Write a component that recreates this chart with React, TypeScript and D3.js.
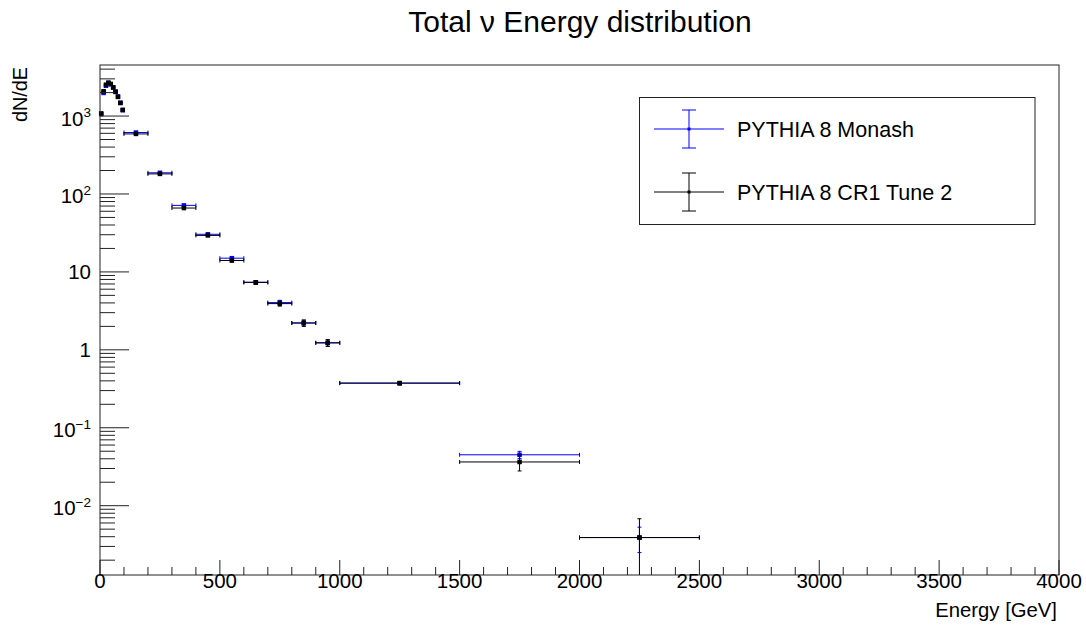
import React from "react";
import * as d3 from "d3";

// ---- data ----
const binEdges = [0, 10, 20, 30, 40, 50, 60, 70, 80, 90, 100, 200, 300, 400, 500, 600, 700, 800, 900, 1000, 1500, 2000, 2500];
const monashValues = [1060, 1980, 2450, 2650, 2560, 2340, 2060, 1780, 1480, 1190, 615, 187, 71.4, 30.4, 15.0, 7.35, 4.04, 2.21, 1.23, 0.374, 0.045, 0.0039];
const monashErrors = [30, 40, 45, 45, 45, 42, 40, 38, 35, 32, 8, 3, 1.6, 1, 0.6, 0.4, 0.28, 0.2, 0.12, 0.018, 0.0048, 0.0014];
const cr1Values = [1080, 2080, 2520, 2680, 2580, 2330, 2040, 1760, 1470, 1200, 590, 181, 66, 29.4, 14.0, 7.35, 3.92, 2.21, 1.23, 0.374, 0.0364, 0.0039];
const cr1Errors = [30, 40, 45, 45, 45, 42, 40, 38, 35, 32, 8, 3, 1.5, 1, 0.6, 0.4, 0.28, 0.2, 0.12, 0.018, 0.0085, 0.0029];
const seriesNames = ["PYTHIA 8 Monash", "PYTHIA 8 CR1 Tune 2"];
const seriesColors = ["#0000ff", "#000000"];
const xTickValues = [0, 500, 1000, 1500, 2000, 2500, 3000, 3500, 4000];
const xTickLabels = ["0", "500", "1000", "1500", "2000", "2500", "3000", "3500", "4000"];
const yTickValues = [1000, 100, 10, 1, 0.1, 0.01];
const yTickBases = ["10", "10", "10", "1", "10", "10"];
const yTickExps = ["3", "2", "", "", "\u22121", "\u22122"];
const titleText = "Total \u03bd Energy distribution";
const xTitle = "Energy [GeV]";
const yTitle = "dN/dE";

const FONT = "'Liberation Sans', Arial, Helvetica, sans-serif";

export default function App() {
  const W = 1086, H = 628;
  const L = 100, R = 1059, T = 65, B = 575;
  const x = d3.scaleLinear().domain([0, 4000]).range([L, R]);
  const y = d3.scaleLog().domain([0.00129, 4520]).range([B, T]);
  const [ymin, ymax] = y.domain();
  const clampY = (v: number) => y(Math.max(ymin, Math.min(ymax, v)));

  const xMinor = d3.range(0, 4001, 100).filter((v) => v % 500 !== 0);
  const yMinor: number[] = [];
  for (let d = -3; d <= 3; d++) {
    for (let m = 2; m <= 9; m++) {
      const v = m * Math.pow(10, d);
      if (v > ymin && v < ymax) yMinor.push(v);
    }
  }

  const bins = binEdges.slice(0, -1).map((lo, i) => ({ lo, hi: binEdges[i + 1], c: (lo + binEdges[i + 1]) / 2 }));
  const series = [
    { vals: monashValues, errs: monashErrors, color: seriesColors[0] },
    { vals: cr1Values, errs: cr1Errors, color: seriesColors[1] },
  ];
  const ms = 4.5;

  const legendEntries = [
    { name: seriesNames[0], color: seriesColors[0], cy: 129, top: 110, bot: 148 },
    { name: seriesNames[1], color: seriesColors[1], cy: 192, top: 173, bot: 211 },
  ];

  return (
    <svg width={W} height={H} style={{ position: "absolute", left: 0, top: 0, background: "#fff" }} fontFamily={FONT}>
      <rect x={0} y={0} width={W} height={H} fill="#fff" />
      <text x={580} y={32} fontSize={30} textAnchor="middle" fill="#000">{titleText}</text>

      {/* data */}
      <g>
        {series.map((s, si) => (
          <g key={si} stroke={s.color} fill={s.color} strokeWidth={1}>
            {bins.map((b, i) => {
              const v = s.vals[i];
              const cx = x(b.c);
              const cy = y(v);
              const x0 = x(b.lo), x1 = x(b.hi);
              const yHi = clampY(v + s.errs[i]);
              const yLo = clampY(v - s.errs[i]);
              return (
                <g key={i}>
                  <line x1={x0} x2={x1} y1={cy} y2={cy} />
                  <line x1={x0} x2={x0} y1={cy - 2} y2={cy + 2} />
                  <line x1={x1} x2={x1} y1={cy - 2} y2={cy + 2} />
                  <line x1={cx} x2={cx} y1={yHi} y2={yLo} />
                  {yHi > T + 1 && <line x1={cx - 2} x2={cx + 2} y1={yHi} y2={yHi} />}
                  {yLo < B - 1 && <line x1={cx - 2} x2={cx + 2} y1={yLo} y2={yLo} />}
                  <rect x={cx - ms / 2} y={cy - ms / 2} width={ms} height={ms} stroke="none" />
                </g>
              );
            })}
          </g>
        ))}
      </g>

      {/* frame */}
      <rect x={L} y={T} width={R - L} height={B - T} fill="none" stroke="#222" strokeWidth={1} />

      {/* ticks */}
      <g stroke="#222" strokeWidth={1}>
        {xTickValues.map((v) => (
          <line key={"xM" + v} x1={x(v)} x2={x(v)} y1={B} y2={B - 15} />
        ))}
        {xMinor.map((v) => (
          <line key={"xm" + v} x1={x(v)} x2={x(v)} y1={B} y2={B - 8} />
        ))}
        {yTickValues.map((v) => (
          <line key={"yM" + v} x1={L} x2={L + 29} y1={y(v)} y2={y(v)} />
        ))}
        {yMinor.map((v) => (
          <line key={"ym" + v} x1={L} x2={L + 15} y1={y(v)} y2={y(v)} />
        ))}
      </g>
      <g fontSize={20.5} fill="#000" textAnchor="middle">
        {xTickValues.map((v, i) => (
          <text key={"xl" + v} x={x(v)} y={588}>{xTickLabels[i]}</text>
        ))}
      </g>
      <g fontSize={20.5} fill="#000" textAnchor="end">
        {yTickValues.map((v, i) => (
          <text key={"yl" + v} x={91} y={y(v) + (yTickExps[i] ? 9.5 : 7.5)}>
            {yTickBases[i]}
            {yTickExps[i] && (
              <tspan fontSize={13.5} dy={-8.5}>{yTickExps[i]}</tspan>
            )}
          </text>
        ))}
      </g>
      <text x={1057} y={617} fontSize={20.3} textAnchor="end" fill="#000">{xTitle}</text>
      <text transform="translate(27,67) rotate(-90)" fontSize={19.8} textAnchor="end" fill="#000">{yTitle}</text>

      {/* legend */}
      <rect x={639.5} y={97.5} width={395.5} height={127} fill="#fff" stroke="#222" strokeWidth={1} />
      {legendEntries.map((e, i) => (
        <g key={i}>
          <g stroke={e.color} strokeWidth={1}>
            <line x1={654} x2={724} y1={e.cy} y2={e.cy} />
            <line x1={689} x2={689} y1={e.top} y2={e.bot} />
            <line x1={682} x2={696} y1={e.top} y2={e.top} />
            <line x1={682} x2={696} y1={e.bot} y2={e.bot} />
          </g>
          <rect x={687.5} y={e.cy - 1.5} width={3} height={3} fill={e.color} />
          <text x={737} y={e.cy + 7.7} fontSize={21.5} fill="#000">{e.name}</text>
        </g>
      ))}
    </svg>
  );
}
